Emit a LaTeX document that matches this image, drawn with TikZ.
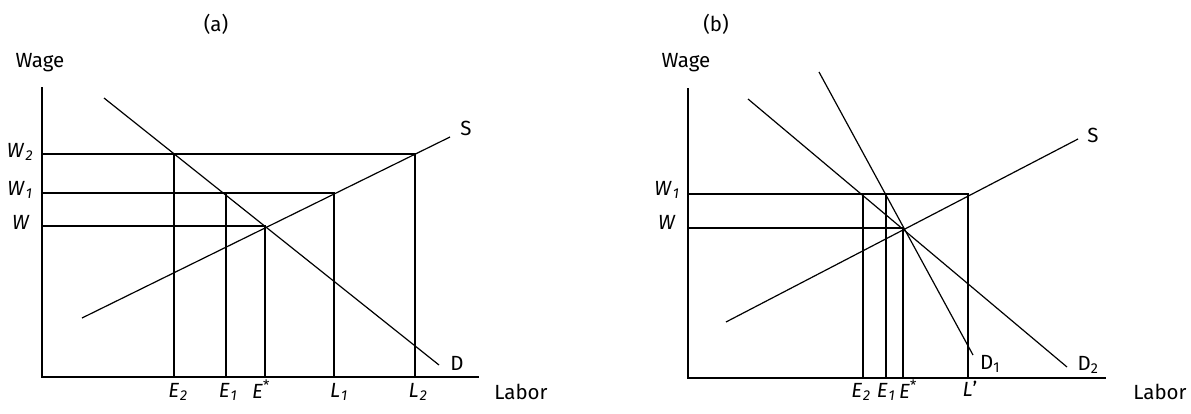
\documentclass[tikz,border=0pt]{standalone}
\usepackage{fontspec}
\setmainfont{Fira Sans}
\usetikzlibrary{positioning}
\newcommand{\sublab}[2]{\textit{#1}\kern1pt\textsubscript{\textit{#2}}}
\tikzset{
  axis/.style={line width=1.5pt},
  curve/.style={line width=1.2pt},
  guide/.style={line width=1.2pt},
  lab/.style={font=\fontsize{20.5}{22}\selectfont, inner sep=0pt}
}
\begin{document}
\begin{tikzpicture}[x=1pt,y=-1pt]
\useasboundingbox (0,0) rectangle (1191,413);
% panel (a)
\node[lab] (ta) at (216,24) {(a)};
\node[lab] (wagea) at (40,63) {Wage};
\node[lab] (labora) at (521,392) {Labor};
\draw[axis] (42,87) -- (42,377) -- (479,377);
\draw[guide] (42,154) -- (415,154) -- (415,377);
\draw[guide] (42,193) -- (334,193) -- (334,377);
\draw[guide] (42,226) -- (265,226) -- (265,377);
\draw[guide] (174,154) -- (174,377);
\draw[guide] (226,193) -- (226,377);
\draw[curve] (104,98) -- (439,365) coordinate (Da);
\draw[curve] (82,318) -- (450,137) coordinate (Sa);
\node[lab] (dlaba) at (457,363) {D};
\node[lab] (slaba) at (466,128) {S};
\node[lab] (w2a) at (20,152) {\sublab{W}{2}};
\node[lab] (w1a) at (20,190) {\sublab{W}{1}};
\node[lab] (wa) at (21,222) {\textit{W}};
\node[lab] (e2a) at (178,392) {\sublab{E}{2}};
\node[lab] (e1a) at (228,392) {\sublab{E}{1}};
\node[lab] (esa) at (261,389) {\textit{E}\textsuperscript{*}};
\node[lab] (l1a) at (339,392) {\sublab{L}{1}};
\node[lab] (l2a) at (418,392) {\sublab{L}{2}};
% panel (b)
\node[lab] (tb) at (716,24) {(b)};
\node[lab] (wageb) at (686,63) {Wage};
\node[lab] (laborb) at (1160,392) {Labor};
\draw[axis] (688,88) -- (688,378) -- (1106,378);
\draw[guide] (688,194) -- (968,194) -- (968,378);
\draw[guide] (688,228) -- (903,228) -- (903,378);
\draw[guide] (863,194) -- (863,378);
\draw[guide] (886,194) -- (886,378);
\draw[curve] (748,99) -- (1067,367) coordinate (D2b);
\draw[curve] (819,72) -- (973,355) coordinate (D1b);
\draw[curve] (726,322) -- (1078,139) coordinate (Sb);
\node[lab] (d1lab) at (990,364) {D\textsubscript{1}};
\node[lab] (d2lab) at (1088,365) {D\textsubscript{2}};
\node[lab] (slabb) at (1093,135) {S};
\node[lab] (w1b) at (667,190) {\sublab{W}{1}};
\node[lab] (wb) at (667,222) {\textit{W}};
\node[lab] (e2b) at (861,392) {\sublab{E}{2}};
\node[lab] (e1b) at (886,392) {\sublab{E}{1}};
\node[lab] (esb) at (908,389) {\textit{E}\textsuperscript{*}};
\node[lab] (lpb) at (970,389) {\textit{L}’};
\end{tikzpicture}
\end{document}
